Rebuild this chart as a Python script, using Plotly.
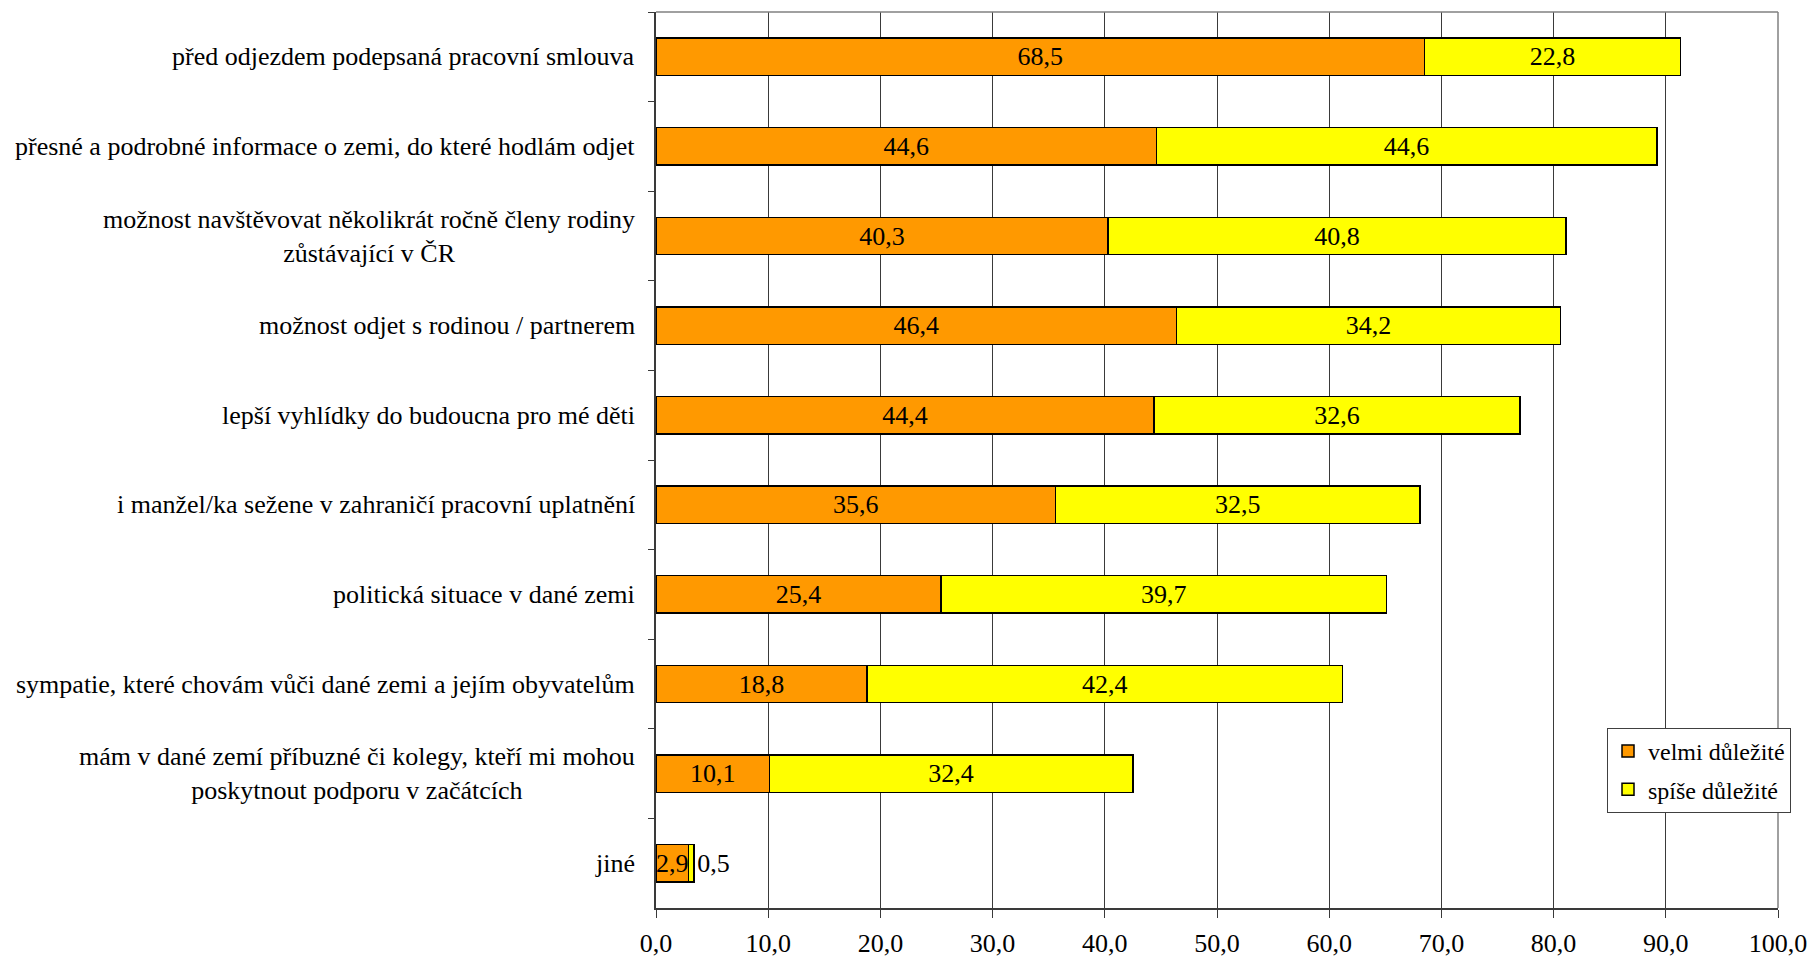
import plotly.graph_objects as go

categories = [
    "před odjezdem podepsaná pracovní smlouva",
    "přesné a podrobné informace o zemi, do které hodlám odjet",
    "možnost navštěvovat několikrát ročně členy rodiny<br>zůstávající v ČR",
    "možnost odjet s rodinou / partnerem",
    "lepší vyhlídky do budoucna pro mé děti",
    "i manžel/ka sežene v zahraničí pracovní uplatnění",
    "politická situace v dané zemi",
    "sympatie, které chovám vůči dané zemi a jejím obyvatelům",
    "mám v dané zemí příbuzné či kolegy, kteří mi mohou<br>poskytnout podporu v začátcích",
    "jiné",
]
velmi = [68.5, 44.6, 40.3, 46.4, 44.4, 35.6, 25.4, 18.8, 10.1, 2.9]
spise = [22.8, 44.6, 40.8, 34.2, 32.6, 32.5, 39.7, 42.4, 32.4, 0.5]
series_names = ["velmi důležité", "spíše důležité"]
x_ticks = [0, 10, 20, 30, 40, 50, 60, 70, 80, 90, 100]

FONT = "Liberation Serif, Times New Roman, DejaVu Serif, serif"
FS = 26
W, H = 1816, 959
ML, MR, MT, MB = 656, 38, 12, 51

fig = go.Figure()
fig.add_trace(go.Bar(
    y=categories, x=velmi, orientation="h", name=series_names[0],
    marker=dict(color="#FF9900", line=dict(color="black", width=1.5)),
    texttemplate="%{x:.1f}", textposition="inside", insidetextanchor="middle",
    textangle=0, constraintext="none",
    insidetextfont=dict(family=FONT, size=FS, color="black"),
    legendgroup="a",
))
fig.add_trace(go.Bar(
    y=categories, x=spise, orientation="h", name=series_names[1],
    marker=dict(color="#FFFF00", line=dict(color="black", width=1.5)),
    texttemplate="%{x:.1f}",
    textposition=["inside"] * (len(spise) - 1) + ["outside"],
    insidetextanchor="middle", textangle=0, constraintext="none", cliponaxis=False,
    insidetextfont=dict(family=FONT, size=FS, color="black"),
    outsidetextfont=dict(family=FONT, size=FS, color="black"),
    legendgroup="b",
))

for c in categories:
    fig.add_annotation(
        x=0, xref="paper", y=c, yref="y", text=c, showarrow=False,
        xanchor="right", align="center", xshift=-19,
        font=dict(family=FONT, size=FS, color="black"),
    )

fig.update_layout(
    width=W, height=H,
    margin=dict(l=ML, r=MR, t=MT, b=MB, pad=0, autoexpand=False),
    barmode="stack", bargap=0.583,
    separators=",.",
    plot_bgcolor="white", paper_bgcolor="white",
    font=dict(family=FONT, size=FS, color="black"),
    showlegend=True,
    legend=dict(
        x=0.8476, y=0.2009, xanchor="left", yanchor="top",
        bgcolor="white", bordercolor="#404040", borderwidth=1,
        font=dict(family=FONT, size=24, color="black"),
        traceorder="grouped", tracegroupgap=4,
        itemwidth=30,
    ),
)
fig.update_xaxes(
    range=[0, 100], tickvals=x_ticks, tickformat=".1f", automargin=False,
    showgrid=True, gridcolor="#3a3a3a", gridwidth=1,
    showline=True, linecolor="#3a3a3a", linewidth=1.5,
    ticks="outside", ticklen=8, tickcolor="#3a3a3a", ticklabelstandoff=3,
    tickfont=dict(family=FONT, size=FS, color="black"),
    zeroline=False,
)
fig.update_yaxes(
    categoryorder="array", categoryarray=categories, autorange="reversed",
    showticklabels=False, showgrid=False, automargin=False,
    showline=True, linecolor="#3a3a3a", linewidth=1.5,
    ticks="outside", ticklen=6, tickcolor="#3a3a3a", tickson="boundaries",
    zeroline=False,
)
fig.add_shape(type="line", xref="paper", yref="paper", x0=0, x1=1, y0=1, y1=1,
              line=dict(color="#808080", width=1.5))
fig.add_shape(type="line", xref="paper", yref="paper", x0=1, x1=1, y0=0, y1=1,
              line=dict(color="#808080", width=1.5))

fig.write_html("out.html")
